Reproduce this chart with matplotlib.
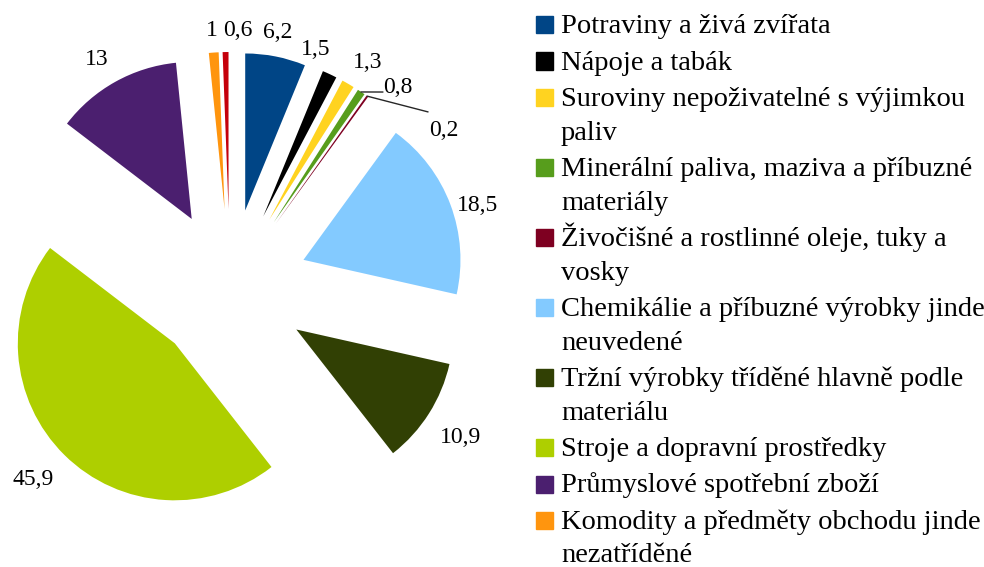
import numpy as np
import matplotlib.pyplot as plt
from matplotlib.patches import Rectangle

categories = [
    "Potraviny a živá zvířata",
    "Nápoje a tabák",
    "Suroviny nepoživatelné s výjimkou\npaliv",
    "Minerální paliva, maziva a příbuzné\nmateriály",
    "Živočišné a rostlinné oleje, tuky a\nvosky",
    "Chemikálie a příbuzné výrobky jinde\nneuvedené",
    "Tržní výrobky tříděné hlavně podle\nmateriálu",
    "Stroje a dopravní prostředky",
    "Průmyslové spotřební zboží",
    "Komodity a předměty obchodu jinde\nnezatříděné",
    "Ostatní",
]
values = [6.2, 1.5, 1.3, 0.8, 0.2, 18.5, 10.9, 45.9, 13, 1, 0.6]
value_labels = ["6,2", "1,5", "1,3", "0,8", "0,2", "18,5", "10,9", "45,9", "13", "1", "0,6"]
colors = ["#004586", "#000000", "#ffd320", "#579d1c", "#7e0021", "#83caff",
          "#314004", "#aecf00", "#4b1f6f", "#ff950e", "#c5000b"]
n_legend = 10

# label placement: angle clockwise from top (deg), distance in radii
label_ang = [10.5, 19.7, 31.5, 40.0, 53.6, 71.6, 123.0, 225.7, 329.7, 356.0, 1.8]
label_dist = [1.65, 1.61, 1.68, 1.66, 1.69, 1.66, 1.75, 1.75, 1.68, 1.64, 1.64]
leaders = {3: (38.0, 1.58), 4: (48.4, 1.685)}

W, H, DPI = 984, 567, 100
R = 157.0           # pie radius in px
CX, CY = 230.0, 287.5  # pie centre in px (from top-left)

fig = plt.figure(figsize=(W / DPI, H / DPI), dpi=DPI)
ax = fig.add_axes([0, 0, 1, 1])
ax.pie(values, colors=colors, startangle=90, counterclock=False,
       explode=[0.5] * len(values), radius=1, center=(0, 0),
       wedgeprops=dict(linewidth=0))
ax.set_xlim(-CX / R, (W - CX) / R)
ax.set_ylim(-(H - CY) / R, CY / R)
ax.set_aspect('auto')
ax.axis('off')

font = 'Liberation Serif'


def polar(ang, dist):
    a = np.deg2rad(ang)
    return dist * np.sin(a), dist * np.cos(a)


for i, lab in enumerate(value_labels):
    x, y = polar(label_ang[i], label_dist[i])
    ax.text(x, y, lab, ha='center', va='center', fontsize=17,
            family=font, color='black')

# leader lines for the tiny slices
cum = np.cumsum([0] + values) / sum(values) * 360
for i, (ang, dist) in leaders.items():
    mid = (cum[i] + cum[i + 1]) / 2
    x0, y0 = polar(mid, 1.5)
    x1, y1 = polar(ang, dist)
    ax.plot([x0, x1], [y0, y1], color='#262626', lw=1)

# legend, drawn by hand in pixel coords
base = 33.0
for i in range(n_legend):
    lines = categories[i].split("\n")
    fig.patches.append(Rectangle((536 / W, 1 - base / H), 17 / W, 17 / H,
                                 transform=fig.transFigure, color=colors[i]))
    for k, ln in enumerate(lines):
        fig.text(561 / W, 1 - (base + k * 33.5) / H, ln, ha='left',
                 va='baseline', fontsize=20.5, family=font, color='black')
    base += 36.5 + 33.5 * (len(lines) - 1)

fig.savefig('out.png', dpi=DPI)
